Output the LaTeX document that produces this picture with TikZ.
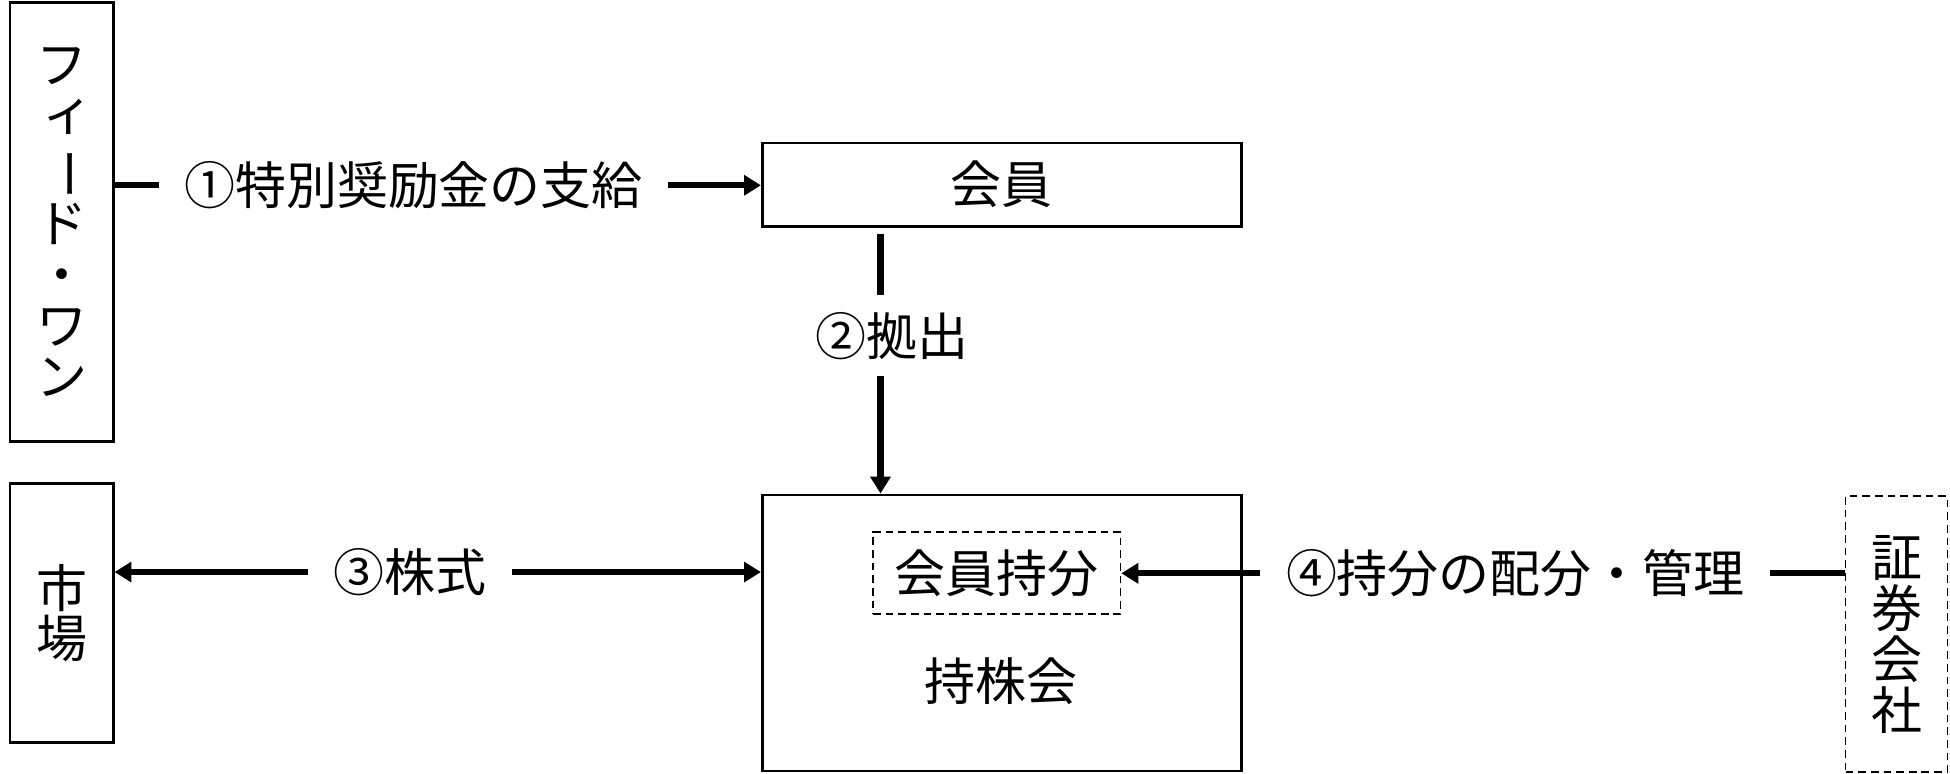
\documentclass[tikz,border=0pt]{standalone}
\usepackage{fontspec}
\setmainfont{Noto Sans CJK JP}
\usepackage{tikz}
\usetikzlibrary{arrows.meta}

\def\unitpx{0.012436cm}
% vertical forms for the stacked text
\newcommand{\tbar}{\rotatebox[origin=c]{-90}{ー}}
\newcommand{\tsmall}[1]{\hspace*{0.25em}\raisebox{0.08em}{#1}}

\tikzset{
	box/.style={draw, line width=0.8pt, inner sep=0pt},
	dbox/.style={draw, line width=0.5pt, dash pattern=on 2.2pt off 1.4pt, inner sep=0pt},
	vtext/.style={font=\fontsize{14.5}{14.5}\selectfont, align=center},
	lbl/.style={inner xsep=20*\unitpx, inner ysep=13*\unitpx},
	flow/.style={line width=1.8pt},
	tip/.style={-{Triangle[length=4.8pt,width=5.6pt]}}
}

\begin{document}
\begin{tikzpicture}[x=\unitpx, y=-\unitpx, font=\fontsize{14.5}{17}\selectfont]

\useasboundingbox (0,0) rectangle (1568,622);

% boxes
\node[box, vtext, minimum width=83*\unitpx, minimum height=353*\unitpx] (feed) at (49.5,178.5) {フ\\\tsmall{ィ}\\\tbar\\ド\\・\\ワ\\ン};
\node[box, vtext, minimum width=83*\unitpx, minimum height=208*\unitpx] (ichiba) at (49.5,493) {市\\場};

\node[box, minimum width=385*\unitpx, minimum height=67*\unitpx] (kaiin) at (805.5,148.5) {会員};
\node[box, minimum width=385*\unitpx, minimum height=222*\unitpx] (mochi) at (805.5,509) {};
\node[dbox, minimum width=199*\unitpx, minimum height=66*\unitpx] (mochibun) at (801.5,461) {会員持分};
\node (mochiname) at (805,548) {持株会};

\node[dbox, vtext, minimum width=82*\unitpx, minimum height=222*\unitpx] (shoken) at (1525,510) {証\\券\\会\\社};

% labels
\node[lbl] (l1) at (332.5,149) {①特別奨励金の支給};
\node[lbl] (l2) at (717,270) {②拠出};
\node[lbl] (l3) at (330,460) {③株式};
\node[lbl] (l4) at (1218.5,461) {④持分の配分・管理};

\coordinate (c2) at (708,0);

% connectors
\draw[flow] (l1.west) -- (l1.west -| feed.east);
\draw[flow, tip] (l1.east) -- (l1.east -| kaiin.west);

\draw[flow, shorten <=1.8pt] (kaiin.south -| c2) -- (l2.north -| c2);
\draw[flow, tip] (l2.south -| c2) -- (mochi.north -| c2);

\draw[flow, tip] (l3.west) -- (l3.west -| ichiba.east);
\draw[flow, tip] (l3.east) -- (l3.east -| mochi.west);

\draw[flow, tip] (l4.west) -- (mochibun.east);
\draw[flow] (l4.east) -- (l4.east -| shoken.west);

\end{tikzpicture}
\end{document}
